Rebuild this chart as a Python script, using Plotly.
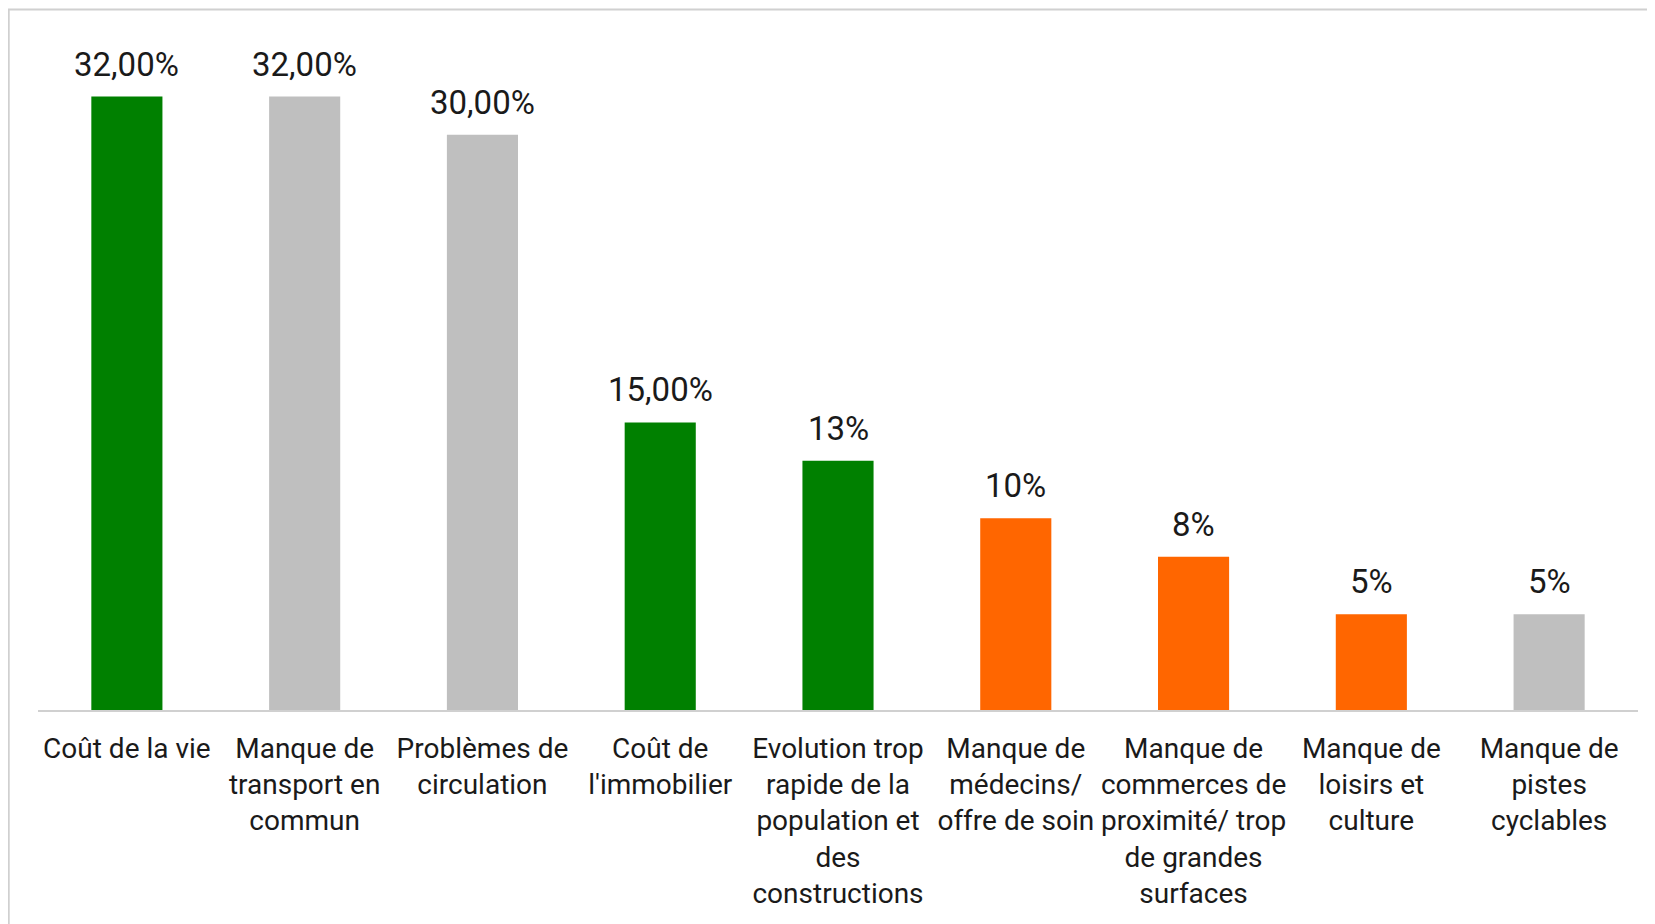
"""Bar chart: problèmes cités (percentages), recreated with Plotly."""
import plotly.graph_objects as go

# ── data ──────────────────────────────────────────────────────────────
CATEGORIES = [
    "Coût de la vie",
    "Manque de<br>transport en<br>commun",
    "Problèmes de<br>circulation",
    "Coût de<br>l'immobilier",
    "Evolution trop<br>rapide de la<br>population et<br>des<br>constructions",
    "Manque de<br>médecins/<br>offre de soin",
    "Manque de<br>commerces de<br>proximité/ trop<br>de grandes<br>surfaces",
    "Manque de<br>loisirs et<br>culture",
    "Manque de<br>pistes<br>cyclables",
]
VALUES = [0.32, 0.32, 0.30, 0.15, 0.13, 0.10, 0.08, 0.05, 0.05]
VALUE_LABELS = ["32,00%", "32,00%", "30,00%", "15,00%", "13%", "10%", "8%", "5%", "5%"]
GROUPS = ["green", "gray", "gray", "green", "green", "orange", "orange", "orange", "gray"]

COLORS = {"green": "#008000", "gray": "#BFBFBF", "orange": "#FF6600"}
FONT = "Liberation Sans Narrow, Arial Narrow, Roboto, sans-serif"

fig = go.Figure(
    go.Bar(
        x=CATEGORIES,
        y=VALUES,
        marker=dict(color=[COLORS[g] for g in GROUPS], line=dict(width=0)),
        hoverinfo="skip",
    )
)

# value labels above bars
for cat, val, lab in zip(CATEGORIES, VALUES, VALUE_LABELS):
    fig.add_annotation(
        x=cat, y=val, text=lab, showarrow=False,
        yanchor="bottom", yshift=11,
        font=dict(family=FONT, size=33, color="#1a1a1a"),
    )

# light outer frame (extends past right/bottom edge like the source crop)
fig.add_shape(
    type="rect", xref="paper", yref="paper",
    x0=-0.0183, x1=1.03, y0=-0.4, y1=1.044,
    line=dict(color="#D0D0D0", width=2), fillcolor="rgba(0,0,0,0)",
    layer="below",
)

# page body has an 8px margin, so plot-area offsets are reduced by 8
fig.update_layout(
    width=1655, height=924,
    margin=dict(l=30, r=25, t=31, b=222),
    plot_bgcolor="white", paper_bgcolor="white",
    showlegend=False,
    bargap=0.6,
    font=dict(family=FONT, color="#1a1a1a"),
    xaxis=dict(
        showline=True, linecolor="#D0D0D0", linewidth=2,
        ticks="", tickfont=dict(family=FONT, size=28, color="#1a1a1a"),
        ticklabelstandoff=12, showgrid=False, zeroline=False,
    ),
    yaxis=dict(
        range=[0, 0.35], visible=False, showgrid=False, zeroline=False,
    ),
)

fig.write_html("out.html")
